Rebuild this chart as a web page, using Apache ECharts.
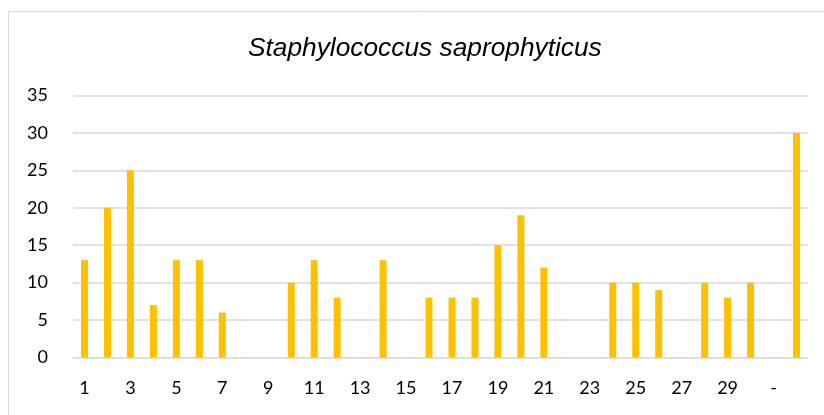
<!DOCTYPE html>
<html>
<head>
<meta charset="utf-8">
<script src="https://cdn.jsdelivr.net/npm/echarts@6/dist/echarts.min.js"></script>
<style>
    html, body { margin: 0; padding: 0; background: #fff; }
    #plot { width: 824px; height: 415px; }
</style>
</head>
<body>
<div id="plot"></div>
<script>
// 数据
let categories = ['1', '2', '3', '4', '5', '6', '7', '8', '9', '10',
    '11', '12', '13', '14', '15', '16', '17', '18', '19', '20',
    '21', '22', '23', '24', '25', '26', '27', '28', '29', '30', '-', ''];
let counts = [13, 20, 25, 7, 13, 13, 6, 0, 0, 10,
    13, 8, 0, 13, 0, 8, 8, 8, 15, 19,
    12, 0, 0, 10, 10, 9, 0, 10, 8, 10, 0, 30];
let yTicks = [0, 5, 10, 15, 20, 25, 30, 35];

let chart = echarts.init(document.getElementById('plot'));
let labelFont = 'Lato, "Open Sans", sans-serif';

let option = {
    animation: false,
    title: {
        text: 'Staphylococcus saprophyticus',
        left: 243,
        top: 31,
        textStyle: {
            fontFamily: '"Liberation Sans", Arial, sans-serif',
            fontStyle: 'italic',
            fontWeight: 'normal',
            fontSize: 26.3,
            color: '#000'
        }
    },
    graphic: [
        {
            type: 'rect',
            shape: { x: 8.5, y: 11.5, width: 830, height: 420 },
            style: { fill: null, stroke: '#d9d9d9', lineWidth: 1 },
            silent: true
        }
    ],
    grid: { left: 73, right: 16, top: 95.5, bottom: 57.5 },
    xAxis: {
        type: 'category',
        data: categories,
        axisLine: { lineStyle: { color: '#d9d9d9', width: 1 } },
        axisTick: { show: false },
        axisLabel: {
            interval: 1,
            margin: 22,
            color: '#000',
            fontSize: 18,
            fontFamily: labelFont
        }
    },
    yAxis: {
        type: 'value',
        min: yTicks[0],
        max: yTicks[yTicks.length - 1],
        interval: 5,
        axisLine: { show: false },
        axisTick: { show: false },
        splitLine: { lineStyle: { color: '#d9d9d9', width: 1.5 } },
        axisLabel: {
            margin: 25,
            color: '#000',
            fontSize: 18,
            fontFamily: labelFont
        }
    },
    series: [
        {
            type: 'bar',
            data: counts,
            barWidth: 7,
            itemStyle: { color: '#FFC000' }
        }
    ]
};

chart.setOption(option);
</script>
</body>
</html>
